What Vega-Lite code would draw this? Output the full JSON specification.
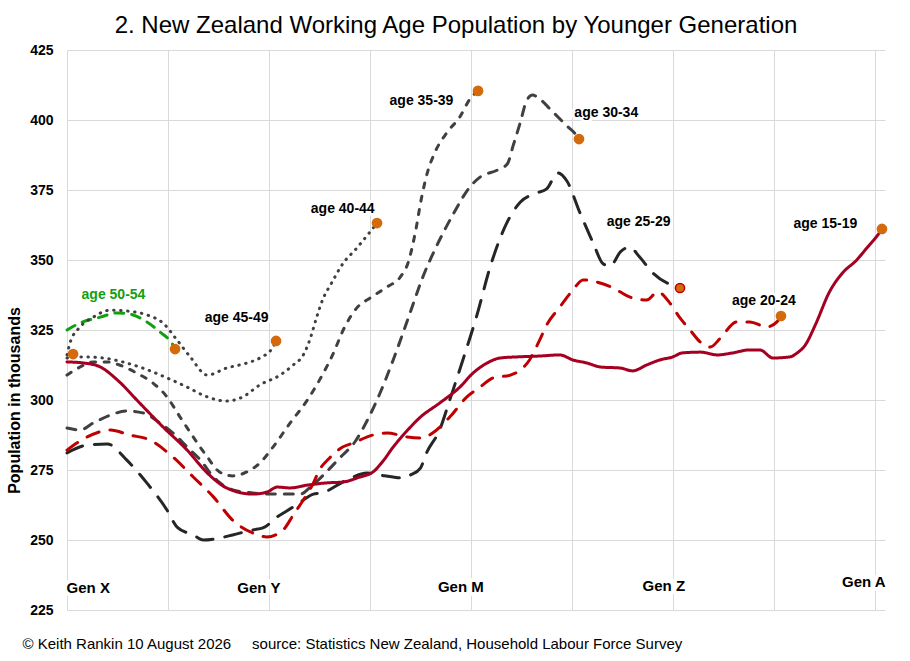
{
  "$schema": "https://vega.github.io/schema/vega-lite/v6.json",
  "width": 818,
  "height": 560,
  "autosize": {"type": "none"},
  "padding": {"left": 67, "top": 50, "right": 25, "bottom": 51},
  "background": "white",
  "title": {
    "text": "2. New Zealand Working Age Population by Younger Generation",
    "font": "Liberation Sans",
    "fontSize": 24,
    "fontWeight": "normal",
    "color": "black",
    "anchor": "middle",
    "frame": "group",
    "dx": -20,
    "dy": 31,
    "offset": 17,
    "baseline": "alphabetic"
  },
  "datasets": {
    "lines": [
      {"age": "50-54", "u": 0, "v": 325},
      {"age": "50-54", "u": 0.13, "v": 327.5},
      {"age": "50-54", "u": 0.33, "v": 329.6},
      {"age": "50-54", "u": 0.5, "v": 331.1},
      {"age": "50-54", "u": 0.62, "v": 330.7},
      {"age": "50-54", "u": 0.79, "v": 327.9},
      {"age": "50-54", "u": 0.92, "v": 324.3},
      {"age": "50-54", "u": 1.05, "v": 319.6},
      {"age": "50-54", "u": 1.07, "v": 318.2},

      {"age": "45-49", "u": 0, "v": 316.1},
      {"age": "45-49", "u": 0.03, "v": 320.4},
      {"age": "45-49", "u": 0.13, "v": 326.1},
      {"age": "45-49", "u": 0.26, "v": 329.6},
      {"age": "45-49", "u": 0.43, "v": 332.1},
      {"age": "45-49", "u": 0.59, "v": 331.8},
      {"age": "45-49", "u": 0.79, "v": 330.4},
      {"age": "45-49", "u": 0.95, "v": 327.5},
      {"age": "45-49", "u": 1.09, "v": 321.4},
      {"age": "45-49", "u": 1.22, "v": 315.4},
      {"age": "45-49", "u": 1.39, "v": 308.9},
      {"age": "45-49", "u": 1.58, "v": 311.4},
      {"age": "45-49", "u": 1.78, "v": 313.2},
      {"age": "45-49", "u": 1.91, "v": 315},
      {"age": "45-49", "u": 2.04, "v": 318.9},
      {"age": "45-49", "u": 2.07, "v": 321.1},

      {"age": "40-44", "u": 0, "v": 315},
      {"age": "40-44", "u": 0.13, "v": 315.4},
      {"age": "40-44", "u": 0.36, "v": 315},
      {"age": "40-44", "u": 0.55, "v": 313.6},
      {"age": "40-44", "u": 0.75, "v": 311.4},
      {"age": "40-44", "u": 0.99, "v": 307.9},
      {"age": "40-44", "u": 1.19, "v": 304.6},
      {"age": "40-44", "u": 1.39, "v": 301.1},
      {"age": "40-44", "u": 1.58, "v": 299.6},
      {"age": "40-44", "u": 1.74, "v": 301.1},
      {"age": "40-44", "u": 1.91, "v": 305.4},
      {"age": "40-44", "u": 2.11, "v": 308.9},
      {"age": "40-44", "u": 2.24, "v": 312.5},
      {"age": "40-44", "u": 2.34, "v": 316.1},
      {"age": "40-44", "u": 2.41, "v": 322.1},
      {"age": "40-44", "u": 2.47, "v": 329.3},
      {"age": "40-44", "u": 2.53, "v": 335.7},
      {"age": "40-44", "u": 2.62, "v": 341.8},
      {"age": "40-44", "u": 2.73, "v": 348.6},
      {"age": "40-44", "u": 2.87, "v": 354.3},
      {"age": "40-44", "u": 3.0, "v": 360},
      {"age": "40-44", "u": 3.07, "v": 363.2},

      {"age": "35-39", "u": 0, "v": 308.9},
      {"age": "35-39", "u": 0.13, "v": 311.8},
      {"age": "35-39", "u": 0.26, "v": 313.6},
      {"age": "35-39", "u": 0.4, "v": 313.6},
      {"age": "35-39", "u": 0.52, "v": 312.5},
      {"age": "35-39", "u": 0.69, "v": 309.6},
      {"age": "35-39", "u": 0.85, "v": 306.1},
      {"age": "35-39", "u": 0.99, "v": 301.1},
      {"age": "35-39", "u": 1.12, "v": 293.9},
      {"age": "35-39", "u": 1.25, "v": 286.8},
      {"age": "35-39", "u": 1.39, "v": 279.6},
      {"age": "35-39", "u": 1.51, "v": 274.3},
      {"age": "35-39", "u": 1.64, "v": 272.9},
      {"age": "35-39", "u": 1.78, "v": 274.3},
      {"age": "35-39", "u": 1.91, "v": 277.5},
      {"age": "35-39", "u": 2.04, "v": 283.2},
      {"age": "35-39", "u": 2.21, "v": 291.8},
      {"age": "35-39", "u": 2.38, "v": 300},
      {"age": "35-39", "u": 2.5, "v": 307.1},
      {"age": "35-39", "u": 2.63, "v": 316.1},
      {"age": "35-39", "u": 2.75, "v": 326.1},
      {"age": "35-39", "u": 2.87, "v": 332.9},
      {"age": "35-39", "u": 3.0, "v": 336.4},
      {"age": "35-39", "u": 3.17, "v": 340.4},
      {"age": "35-39", "u": 3.3, "v": 343.9},
      {"age": "35-39", "u": 3.38, "v": 349.3},
      {"age": "35-39", "u": 3.45, "v": 360},
      {"age": "35-39", "u": 3.51, "v": 372.1},
      {"age": "35-39", "u": 3.57, "v": 381.4},
      {"age": "35-39", "u": 3.64, "v": 388.2},
      {"age": "35-39", "u": 3.76, "v": 395.4},
      {"age": "35-39", "u": 3.89, "v": 401.1},
      {"age": "35-39", "u": 3.99, "v": 407.5},
      {"age": "35-39", "u": 4.07, "v": 410.4},

      {"age": "30-34", "u": 0, "v": 290},
      {"age": "30-34", "u": 0.13, "v": 289.3},
      {"age": "30-34", "u": 0.26, "v": 291.8},
      {"age": "30-34", "u": 0.43, "v": 294.6},
      {"age": "30-34", "u": 0.59, "v": 296.1},
      {"age": "30-34", "u": 0.75, "v": 295.4},
      {"age": "30-34", "u": 0.92, "v": 291.8},
      {"age": "30-34", "u": 1.05, "v": 288.2},
      {"age": "30-34", "u": 1.19, "v": 283.2},
      {"age": "30-34", "u": 1.32, "v": 278.6},
      {"age": "30-34", "u": 1.45, "v": 272.5},
      {"age": "30-34", "u": 1.64, "v": 267.9},
      {"age": "30-34", "u": 1.84, "v": 266.8},
      {"age": "30-34", "u": 2.04, "v": 266.4},
      {"age": "30-34", "u": 2.31, "v": 266.4},
      {"age": "30-34", "u": 2.41, "v": 268.9},
      {"age": "30-34", "u": 2.55, "v": 273.6},
      {"age": "30-34", "u": 2.7, "v": 279.3},
      {"age": "30-34", "u": 2.85, "v": 285},
      {"age": "30-34", "u": 2.97, "v": 292.5},
      {"age": "30-34", "u": 3.1, "v": 302.5},
      {"age": "30-34", "u": 3.23, "v": 314.3},
      {"age": "30-34", "u": 3.4, "v": 331.4},
      {"age": "30-34", "u": 3.52, "v": 343.6},
      {"age": "30-34", "u": 3.66, "v": 355},
      {"age": "30-34", "u": 3.82, "v": 366.1},
      {"age": "30-34", "u": 3.99, "v": 376.1},
      {"age": "30-34", "u": 4.09, "v": 379.6},
      {"age": "30-34", "u": 4.26, "v": 382.1},
      {"age": "30-34", "u": 4.36, "v": 384.3},
      {"age": "30-34", "u": 4.42, "v": 391.1},
      {"age": "30-34", "u": 4.49, "v": 399.3},
      {"age": "30-34", "u": 4.55, "v": 406.8},
      {"age": "30-34", "u": 4.61, "v": 408.9},
      {"age": "30-34", "u": 4.68, "v": 407.5},
      {"age": "30-34", "u": 4.81, "v": 402.9},
      {"age": "30-34", "u": 4.95, "v": 397.9},
      {"age": "30-34", "u": 5.05, "v": 394.3},
      {"age": "30-34", "u": 5.07, "v": 393.2},

      {"age": "25-29", "u": 0, "v": 281.1},
      {"age": "25-29", "u": 0.2, "v": 283.9},
      {"age": "25-29", "u": 0.4, "v": 284.3},
      {"age": "25-29", "u": 0.59, "v": 278.6},
      {"age": "25-29", "u": 0.79, "v": 270.4},
      {"age": "25-29", "u": 0.99, "v": 260.7},
      {"age": "25-29", "u": 1.09, "v": 254.6},
      {"age": "25-29", "u": 1.25, "v": 251.8},
      {"age": "25-29", "u": 1.35, "v": 250},
      {"age": "25-29", "u": 1.51, "v": 250.7},
      {"age": "25-29", "u": 1.64, "v": 251.8},
      {"age": "25-29", "u": 1.84, "v": 253.6},
      {"age": "25-29", "u": 1.94, "v": 254.3},
      {"age": "25-29", "u": 2.08, "v": 258.2},
      {"age": "25-29", "u": 2.24, "v": 261.8},
      {"age": "25-29", "u": 2.34, "v": 264.3},
      {"age": "25-29", "u": 2.44, "v": 266.4},
      {"age": "25-29", "u": 2.52, "v": 266.8},
      {"age": "25-29", "u": 2.77, "v": 271.4},
      {"age": "25-29", "u": 2.97, "v": 273.9},
      {"age": "25-29", "u": 3.1, "v": 273.2},
      {"age": "25-29", "u": 3.23, "v": 272.5},
      {"age": "25-29", "u": 3.33, "v": 272.1},
      {"age": "25-29", "u": 3.4, "v": 273.2},
      {"age": "25-29", "u": 3.5, "v": 275.7},
      {"age": "25-29", "u": 3.56, "v": 281.1},
      {"age": "25-29", "u": 3.69, "v": 289.3},
      {"age": "25-29", "u": 3.79, "v": 300},
      {"age": "25-29", "u": 3.92, "v": 314.3},
      {"age": "25-29", "u": 4.06, "v": 330.4},
      {"age": "25-29", "u": 4.19, "v": 347.5},
      {"age": "25-29", "u": 4.36, "v": 363.6},
      {"age": "25-29", "u": 4.49, "v": 370.7},
      {"age": "25-29", "u": 4.65, "v": 373.9},
      {"age": "25-29", "u": 4.75, "v": 375.4},
      {"age": "25-29", "u": 4.86, "v": 381.1},
      {"age": "25-29", "u": 4.95, "v": 378.2},
      {"age": "25-29", "u": 5.08, "v": 366.8},
      {"age": "25-29", "u": 5.21, "v": 356.1},
      {"age": "25-29", "u": 5.31, "v": 348.6},
      {"age": "25-29", "u": 5.38, "v": 347.9},
      {"age": "25-29", "u": 5.48, "v": 352.9},
      {"age": "25-29", "u": 5.57, "v": 354.6},
      {"age": "25-29", "u": 5.67, "v": 351.1},
      {"age": "25-29", "u": 5.8, "v": 345.4},
      {"age": "25-29", "u": 5.94, "v": 341.8},
      {"age": "25-29", "u": 6.04, "v": 340.7},
      {"age": "25-29", "u": 6.07, "v": 340},

      {"age": "20-24", "u": 0, "v": 282.1},
      {"age": "20-24", "u": 0.2, "v": 286.8},
      {"age": "20-24", "u": 0.43, "v": 289.3},
      {"age": "20-24", "u": 0.62, "v": 287.5},
      {"age": "20-24", "u": 0.82, "v": 285.7},
      {"age": "20-24", "u": 1.05, "v": 279.6},
      {"age": "20-24", "u": 1.25, "v": 272.5},
      {"age": "20-24", "u": 1.45, "v": 265.4},
      {"age": "20-24", "u": 1.64, "v": 257.1},
      {"age": "20-24", "u": 1.84, "v": 252.5},
      {"age": "20-24", "u": 1.98, "v": 251.1},
      {"age": "20-24", "u": 2.14, "v": 253.6},
      {"age": "20-24", "u": 2.24, "v": 258.9},
      {"age": "20-24", "u": 2.34, "v": 264.3},
      {"age": "20-24", "u": 2.43, "v": 269.6},
      {"age": "20-24", "u": 2.5, "v": 275},
      {"age": "20-24", "u": 2.6, "v": 279.3},
      {"age": "20-24", "u": 2.73, "v": 283.2},
      {"age": "20-24", "u": 2.83, "v": 284.6},
      {"age": "20-24", "u": 3.03, "v": 287.5},
      {"age": "20-24", "u": 3.17, "v": 288.2},
      {"age": "20-24", "u": 3.37, "v": 286.8},
      {"age": "20-24", "u": 3.52, "v": 286.4},
      {"age": "20-24", "u": 3.62, "v": 288.2},
      {"age": "20-24", "u": 3.79, "v": 293.9},
      {"age": "20-24", "u": 3.96, "v": 301.1},
      {"age": "20-24", "u": 4.09, "v": 304.6},
      {"age": "20-24", "u": 4.22, "v": 307.9},
      {"age": "20-24", "u": 4.39, "v": 308.9},
      {"age": "20-24", "u": 4.49, "v": 310.7},
      {"age": "20-24", "u": 4.58, "v": 314.3},
      {"age": "20-24", "u": 4.68, "v": 321.4},
      {"age": "20-24", "u": 4.75, "v": 326.8},
      {"age": "20-24", "u": 4.88, "v": 333.2},
      {"age": "20-24", "u": 5.01, "v": 339.3},
      {"age": "20-24", "u": 5.11, "v": 342.9},
      {"age": "20-24", "u": 5.25, "v": 342.1},
      {"age": "20-24", "u": 5.41, "v": 340},
      {"age": "20-24", "u": 5.57, "v": 336.8},
      {"age": "20-24", "u": 5.74, "v": 335.7},
      {"age": "20-24", "u": 5.85, "v": 338.6},
      {"age": "20-24", "u": 5.97, "v": 334.6},
      {"age": "20-24", "u": 6.07, "v": 329.3},
      {"age": "20-24", "u": 6.17, "v": 325},
      {"age": "20-24", "u": 6.27, "v": 320.7},
      {"age": "20-24", "u": 6.37, "v": 318.9},
      {"age": "20-24", "u": 6.47, "v": 322.1},
      {"age": "20-24", "u": 6.63, "v": 327.9},
      {"age": "20-24", "u": 6.76, "v": 327.9},
      {"age": "20-24", "u": 6.93, "v": 326.1},
      {"age": "20-24", "u": 7.03, "v": 327.9},
      {"age": "20-24", "u": 7.07, "v": 330},

      {"age": "15-19", "u": 0, "v": 313.6},
      {"age": "15-19", "u": 0.17, "v": 313.2},
      {"age": "15-19", "u": 0.33, "v": 311.8},
      {"age": "15-19", "u": 0.5, "v": 307.1},
      {"age": "15-19", "u": 0.72, "v": 298.9},
      {"age": "15-19", "u": 0.95, "v": 290.4},
      {"age": "15-19", "u": 1.19, "v": 282.1},
      {"age": "15-19", "u": 1.39, "v": 273.9},
      {"age": "15-19", "u": 1.58, "v": 268.6},
      {"age": "15-19", "u": 1.84, "v": 266.4},
      {"age": "15-19", "u": 1.98, "v": 267.1},
      {"age": "15-19", "u": 2.08, "v": 268.9},
      {"age": "15-19", "u": 2.21, "v": 268.6},
      {"age": "15-19", "u": 2.38, "v": 269.6},
      {"age": "15-19", "u": 2.57, "v": 270.4},
      {"age": "15-19", "u": 2.73, "v": 270.7},
      {"age": "15-19", "u": 2.9, "v": 272.5},
      {"age": "15-19", "u": 3.03, "v": 274.3},
      {"age": "15-19", "u": 3.13, "v": 278.2},
      {"age": "15-19", "u": 3.23, "v": 283.2},
      {"age": "15-19", "u": 3.33, "v": 287.5},
      {"age": "15-19", "u": 3.5, "v": 293.9},
      {"age": "15-19", "u": 3.69, "v": 298.9},
      {"age": "15-19", "u": 3.89, "v": 304.6},
      {"age": "15-19", "u": 4.02, "v": 309.6},
      {"age": "15-19", "u": 4.16, "v": 313.2},
      {"age": "15-19", "u": 4.29, "v": 315},
      {"age": "15-19", "u": 4.46, "v": 315.4},
      {"age": "15-19", "u": 4.68, "v": 315.7},
      {"age": "15-19", "u": 4.88, "v": 316.1},
      {"age": "15-19", "u": 5.01, "v": 314.3},
      {"age": "15-19", "u": 5.15, "v": 313.2},
      {"age": "15-19", "u": 5.28, "v": 311.8},
      {"age": "15-19", "u": 5.48, "v": 311.4},
      {"age": "15-19", "u": 5.6, "v": 310.4},
      {"age": "15-19", "u": 5.74, "v": 312.5},
      {"age": "15-19", "u": 5.87, "v": 314.3},
      {"age": "15-19", "u": 6.0, "v": 315.4},
      {"age": "15-19", "u": 6.09, "v": 316.8},
      {"age": "15-19", "u": 6.27, "v": 317.1},
      {"age": "15-19", "u": 6.44, "v": 316.1},
      {"age": "15-19", "u": 6.59, "v": 316.8},
      {"age": "15-19", "u": 6.76, "v": 317.9},
      {"age": "15-19", "u": 6.86, "v": 317.9},
      {"age": "15-19", "u": 6.99, "v": 315},
      {"age": "15-19", "u": 7.16, "v": 315.4},
      {"age": "15-19", "u": 7.23, "v": 316.8},
      {"age": "15-19", "u": 7.31, "v": 319.6},
      {"age": "15-19", "u": 7.41, "v": 326.8},
      {"age": "15-19", "u": 7.55, "v": 338.6},
      {"age": "15-19", "u": 7.68, "v": 345.4},
      {"age": "15-19", "u": 7.82, "v": 350},
      {"age": "15-19", "u": 7.92, "v": 354.3},
      {"age": "15-19", "u": 8.05, "v": 360},
      {"age": "15-19", "u": 8.07, "v": 361.1}
    ],
    "dots": [
      {"age": "55-59", "u": 0.06, "v": 316.4},
      {"age": "50-54", "u": 1.07, "v": 318.2},
      {"age": "45-49", "u": 2.07, "v": 321.1},
      {"age": "40-44", "u": 3.07, "v": 363.2},
      {"age": "35-39", "u": 4.07, "v": 410.4},
      {"age": "30-34", "u": 5.07, "v": 393.2},
      {"age": "25-29", "u": 6.07, "v": 340},
      {"age": "20-24", "u": 7.07, "v": 330},
      {"age": "15-19", "u": 8.07, "v": 361.1}
    ],
    "labels": [
      {"text": "age 50-54", "u": 0.46, "v": 337.5},
      {"text": "age 45-49", "u": 1.68, "v": 329.3},
      {"text": "age 40-44", "u": 2.73, "v": 368.2},
      {"text": "age 35-39", "u": 3.51, "v": 406.8},
      {"text": "age 30-34", "u": 5.34, "v": 402.5},
      {"text": "age 25-29", "u": 5.66, "v": 363.6},
      {"text": "age 20-24", "u": 6.9, "v": 335.4},
      {"text": "age 15-19", "u": 7.51, "v": 362.9}
    ],
    "gens": [
      {"text": "Gen X", "u": 0.21, "v": 232.9},
      {"text": "Gen Y", "u": 1.9, "v": 232.9},
      {"text": "Gen M", "u": 3.9, "v": 233.2},
      {"text": "Gen Z", "u": 5.91, "v": 233.6},
      {"text": "Gen A", "u": 7.89, "v": 235}
    ]
  },
  "encoding": {
    "x": {
      "field": "u",
      "type": "quantitative",
      "scale": {"domain": [0, 8.1], "nice": false, "zero": false},
      "axis": {
        "values": [0, 1, 2, 3, 4, 5, 6, 7, 8],
        "labels": false,
        "ticks": false,
        "domain": false,
        "grid": true,
        "gridColor": "#d9d9d9",
        "gridWidth": 1,
        "title": "© Keith Rankin 10 August 2026 \u00a0\u00a0\u00a0\u00a0source: Statistics New Zealand, Household Labour Force Survey",
        "titleFont": "Liberation Sans",
        "titleFontSize": 15,
        "titleFontWeight": "normal",
        "titleColor": "black",
        "titleAnchor": "start",
        "titleAlign": "left",
        "titleBaseline": "alphabetic",
        "titleX": -45,
        "titleY": 38
      }
    },
    "y": {
      "field": "v",
      "type": "quantitative",
      "scale": {"domain": [225, 425], "nice": false, "zero": false},
      "axis": {
        "values": [225, 250, 275, 300, 325, 350, 375, 400, 425],
        "ticks": false,
        "domain": false,
        "grid": true,
        "gridColor": "#d9d9d9",
        "gridWidth": 1,
        "labelFont": "Liberation Sans",
        "labelFontSize": 14,
        "labelFontWeight": "bold",
        "labelColor": "black",
        "labelPadding": 14,
        "title": "Population in thousands",
        "titleFont": "Liberation Sans",
        "titleFontSize": 16,
        "titleFontWeight": "bold",
        "titleColor": "black",
        "titleAngle": -90,
        "titleAlign": "center",
        "titleBaseline": "middle",
        "titleX": -53,
        "titleY": 350
      }
    }
  },
  "layer": [
    {
      "data": {"name": "lines"},
      "mark": {
        "type": "line",
        "interpolate": "monotone",
        "strokeCap": "round",
        "strokeJoin": "round"
      },
      "encoding": {
        "color": {
          "field": "age",
          "type": "nominal",
          "legend": null,
          "scale": {
            "domain": ["50-54", "45-49", "40-44", "35-39", "30-34", "25-29", "20-24", "15-19"],
            "range": ["#10a010", "#404040", "#404040", "#404040", "#404040", "#262626", "#c00000", "#a50021"]
          }
        },
        "strokeDash": {
          "field": "age",
          "type": "nominal",
          "legend": null,
          "scale": {
            "domain": ["50-54", "45-49", "40-44", "35-39", "30-34", "25-29", "20-24", "15-19"],
            "range": [[9, 8], [0.5, 6.5], [0.5, 6.5], [5, 8.5], [9, 9], [17, 12], [13, 11], [1, 0]]
          }
        },
        "strokeWidth": {
          "field": "age",
          "type": "ordinal",
          "legend": null,
          "scale": {
            "domain": ["50-54", "45-49", "40-44", "35-39", "30-34", "25-29", "20-24", "15-19"],
            "range": [3, 3, 3, 3, 3, 3, 2.6, 3.6]
          }
        }
      }
    },
    {
      "data": {"name": "dots"},
      "mark": {"type": "point", "filled": true, "opacity": 1, "size": 85, "strokeWidth": 1.5},
      "encoding": {
        "fill": {"value": "#d46a0c"},
        "stroke": {
          "condition": {"test": "datum.age === '25-29'", "value": "#c00000"},
          "value": "#d46a0c"
        }
      }
    },
    {
      "data": {"name": "labels"},
      "mark": {
        "type": "text",
        "font": "Liberation Sans",
        "fontSize": 14,
        "fontWeight": "bold",
        "align": "center",
        "baseline": "middle",
        "stroke": "white",
        "strokeWidth": 6,
        "strokeJoin": "round"
      },
      "encoding": {"text": {"field": "text"}}
    },
    {
      "data": {"name": "labels"},
      "mark": {
        "type": "text",
        "font": "Liberation Sans",
        "fontSize": 14,
        "fontWeight": "bold",
        "align": "center",
        "baseline": "middle"
      },
      "encoding": {
        "text": {"field": "text"},
        "color": {
          "condition": {"test": "datum.text === 'age 50-54'", "value": "#10a010"},
          "value": "black"
        }
      }
    },
    {
      "data": {"name": "gens"},
      "mark": {
        "type": "text",
        "font": "Liberation Sans",
        "fontSize": 15,
        "fontWeight": "bold",
        "align": "center",
        "baseline": "middle",
        "stroke": "white",
        "strokeWidth": 8,
        "strokeJoin": "round"
      },
      "encoding": {"text": {"field": "text"}}
    },
    {
      "data": {"name": "gens"},
      "mark": {
        "type": "text",
        "font": "Liberation Sans",
        "fontSize": 15,
        "fontWeight": "bold",
        "align": "center",
        "baseline": "middle",
        "color": "black"
      },
      "encoding": {"text": {"field": "text"}}
    }
  ],
  "config": {
    "view": {"stroke": null},
    "font": "Liberation Sans"
  }
}
